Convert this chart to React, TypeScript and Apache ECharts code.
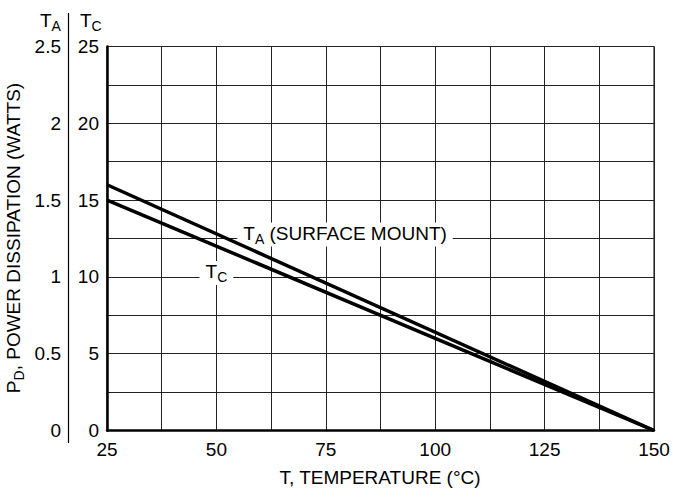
import React, { useEffect, useRef } from "react";
import * as echarts from "echarts";

const temperatures = [25, 150];
const caseDissipation = [15, 0]; // T_C scale (W)
const ambientDissipation = [1.6, 0]; // T_A scale (W)
const xTicks = [25, 50, 75, 100, 125, 150];

const FONT = "'Liberation Sans Narrow', 'Arial Narrow', 'Liberation Sans', Arial, sans-serif";

export default function App() {
  const ref = useRef<HTMLDivElement>(null);
  useEffect(() => {
    if (!ref.current) return;
    const chart = echarts.init(ref.current, undefined, { renderer: "svg" });
    const rich = {
      t: { fontFamily: FONT, fontSize: 19, color: "#000", verticalAlign: "top", lineHeight: 22 },
      sub: { fontFamily: FONT, fontSize: 14, color: "#000", verticalAlign: "top", lineHeight: 22, padding: [8, 0, 0, 0] },
    };
    chart.setOption({
      animation: false,
      backgroundColor: "#fff",
      textStyle: { fontFamily: FONT },
      grid: { left: 107, right: 19, top: 46.5, bottom: 67.5, show: true, borderColor: "#000", borderWidth: 1 },
      xAxis: {
        type: "value",
        min: 25,
        max: 150,
        interval: 12.5,
        axisLine: { show: true, lineStyle: { color: "#000", width: 2.5 } },
        axisTick: { show: false },
        splitLine: { show: true, lineStyle: { color: "#222", width: 1 } },
        axisLabel: {
          margin: 9,
          fontFamily: FONT,
          fontSize: 19,
          color: "#000",
          formatter: (v: number) => (xTicks.includes(v) ? String(v) : ""),
        },
      },
      yAxis: [
        {
          type: "value",
          min: 0,
          max: 25,
          interval: 2.5,
          position: "left",
          axisLine: { show: true, lineStyle: { color: "#000", width: 2.5 } },
          axisTick: { show: false },
          splitLine: { show: true, lineStyle: { color: "#222", width: 1 } },
          axisLabel: {
            margin: 8,
            fontFamily: FONT,
            fontSize: 19,
            color: "#000",
            formatter: (v: number) => (Math.abs(v % 5) < 1e-9 ? String(v) : ""),
          },
        },
        {
          type: "value",
          min: 0,
          max: 2.5,
          interval: 0.25,
          position: "left",
          offset: 38,
          axisLine: { show: false },
          axisTick: { show: false },
          splitLine: { show: false },
          axisLabel: {
            margin: 8,
            fontFamily: FONT,
            fontSize: 19,
            color: "#000",
            formatter: (v: number) => {
              const k = Math.round(v * 100);
              return k % 50 === 0 ? String(Math.round(v * 10) / 10) : "";
            },
          },
        },
      ],
      series: [
        {
          type: "line",
          name: "T_C",
          yAxisIndex: 0,
          data: temperatures.map((t, i) => [t, caseDissipation[i]]),
          symbol: "none",
          lineStyle: { color: "#000", width: 3.5 },
          z: 5,
          markPoint: {
            symbol: "rect",
            symbolSize: 0,
            data: [{ coord: [50, 10] }],
            label: {
              show: true,
              position: "inside",
              offset: [0, -4],
              backgroundColor: "#fff",
              padding: [1, 6, 1, 6],
              formatter: "{t|T}{sub|C}",
              rich,
            },
          },
        },
        {
          type: "line",
          name: "T_A",
          yAxisIndex: 1,
          data: temperatures.map((t, i) => [t, ambientDissipation[i]]),
          symbol: "none",
          lineStyle: { color: "#000", width: 3.5 },
          z: 5,
          markPoint: {
            symbol: "rect",
            symbolSize: 0,
            data: [{ coord: [79.4, 1.25] }],
            label: {
              show: true,
              position: "inside",
              offset: [0, -4],
              backgroundColor: "#fff",
              padding: [1, 6, 1, 6],
              formatter: "{t|T}{sub|A}{t| (SURFACE MOUNT)}",
              rich,
            },
          },
        },
      ],
      graphic: [
        { type: "line", shape: { x1: 68.5, y1: 13, x2: 68.5, y2: 443 }, style: { stroke: "#000", lineWidth: 1.2 } },
        {
          type: "text",
          x: 40,
          y: 11,
          style: { text: "{t|T}{sub|A}", rich, textAlign: "left", textVerticalAlign: "top" },
        },
        {
          type: "text",
          x: 80,
          y: 11,
          style: { text: "{t|T}{sub|C}", rich, textAlign: "left", textVerticalAlign: "top" },
        },
        {
          type: "text",
          x: 4,
          y: 238,
          rotation: Math.PI / 2,
          style: {
            text: "{t|P}{sub|D}{t|, POWER DISSIPATION (WATTS)}",
            rich,
            textAlign: "center",
            textVerticalAlign: "top",
          },
        },
        {
          type: "text",
          x: 380,
          y: 468,
          style: {
            text: "T, TEMPERATURE (°C)",
            fontFamily: FONT,
            fontSize: 19,
            fill: "#000",
            textAlign: "center",
            textVerticalAlign: "top",
          },
        },
      ],
    });
    return () => chart.dispose();
  }, []);
  return <div ref={ref} style={{ width: 673, height: 498, position: "absolute", left: 0, top: 0 }} />;
}
